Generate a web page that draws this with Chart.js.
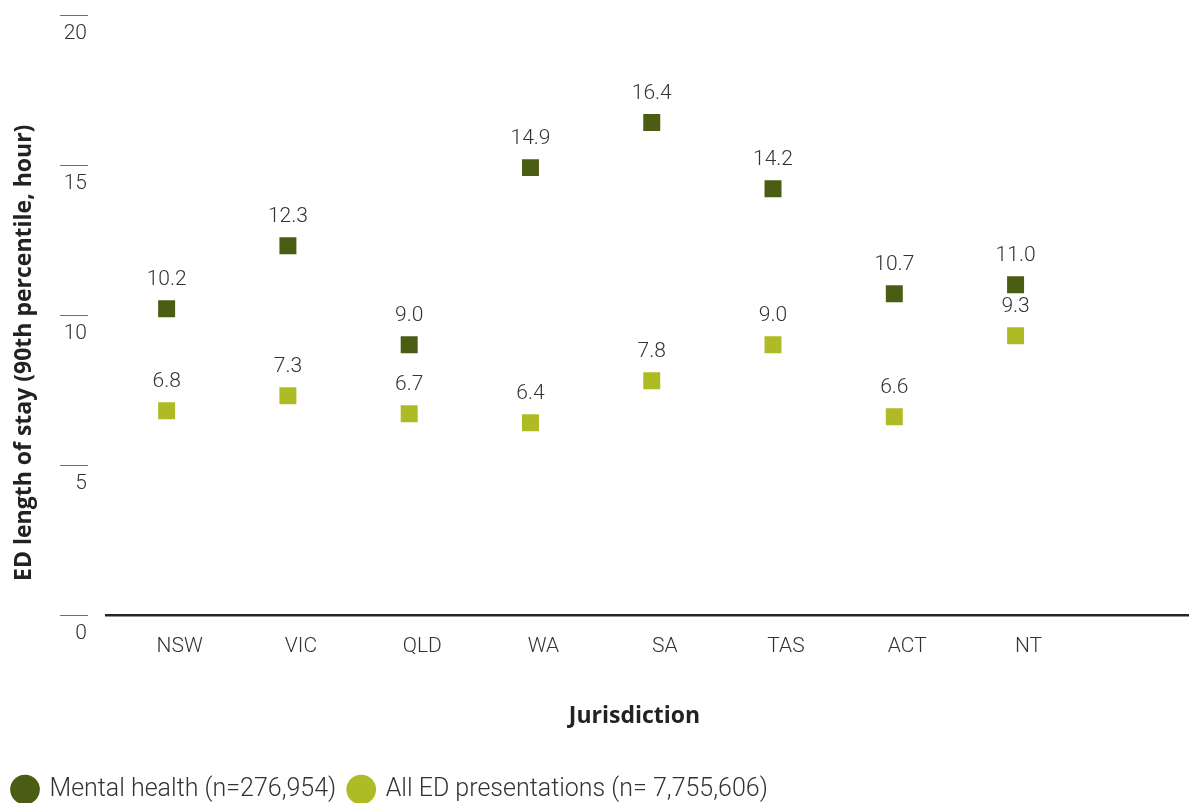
<!DOCTYPE html>
<html>
<head>
<meta charset="utf-8">
<title>ED length of stay by jurisdiction</title>
<script src="https://cdn.jsdelivr.net/npm/chart.js@4/dist/chart.umd.min.js"></script>
<style>
  html, body { margin: 0; padding: 0; background: #ffffff; overflow: hidden; }
  #wrap { position: absolute; left: 0; top: 0; width: 1189px; height: 812px; }
</style>
</head>
<body>
<div id="wrap"><canvas id="chart"></canvas></div>
<script>
// Jurisdictions along the x axis
const jurisdictions = ['NSW', 'VIC', 'QLD', 'WA', 'SA', 'TAS', 'ACT', 'NT'];

// 90th percentile ED length of stay, hours
const mentalHealth = [10.2, 12.3, 9.0, 14.9, 16.4, 14.2, 10.7, 11.0];
const allPresentations = [6.8, 7.3, 6.7, 6.4, 7.8, 9.0, 6.6, 9.3];

// Series names shown in the legend
const seriesNames = ['Mental health (n=276,954)', 'All ED presentations (n= 7,755,606)'];

// Value axis ticks
const yTicks = [0, 5, 10, 15, 20];

const DARK = '#4a5d13';
const LIGHT = '#afbb24';
const TEXT = '#333333';
const LIGHT_FONT = 'Roboto';

function toPoints(values) {
  return values.map((v, i) => ({ x: i, y: v }));
}

// Short tick dashes to the left of the plot, one per value tick
const tickDashes = {
  id: 'tickDashes',
  afterDraw(chart) {
    const y = chart.scales.y;
    const ctx = chart.ctx;
    ctx.save();
    ctx.strokeStyle = '#6f6f6f';
    ctx.lineWidth = 1;
    yTicks.forEach(t => {
      const py = Math.round(y.getPixelForValue(t)) + 0.5;
      ctx.beginPath();
      ctx.moveTo(60, py);
      ctx.lineTo(88, py);
      ctx.stroke();
    });
    ctx.restore();
  }
};

// Value labels above each marker
const valueLabels = {
  id: 'valueLabels',
  afterDatasetsDraw(chart) {
    const ctx = chart.ctx;
    ctx.save();
    ctx.font = '300 21px ' + LIGHT_FONT;
    ctx.fillStyle = TEXT;
    ctx.textAlign = 'center';
    ctx.textBaseline = 'alphabetic';
    chart.data.datasets.forEach((ds, di) => {
      const meta = chart.getDatasetMeta(di);
      meta.data.forEach((pt, i) => {
        ctx.fillText(ds.data[i].y.toFixed(1), pt.x, pt.y - 24);
      });
    });
    ctx.restore();
  }
};

// Axis titles
const axisTitles = {
  id: 'axisTitles',
  afterDraw(chart) {
    const ctx = chart.ctx;
    const area = chart.chartArea;
    ctx.save();
    ctx.fillStyle = '#222222';
    ctx.font = 'bold 23px "Open Sans"';
    ctx.textAlign = 'center';
    ctx.textBaseline = 'middle';
    ctx.fillText('Jurisdiction', (area.left + area.right) / 2 - 13, area.bottom + 101);
    ctx.translate(24, (area.top + area.bottom) / 2 + 38);
    ctx.rotate(-Math.PI / 2);
    ctx.fillText('ED length of stay (90th percentile, hour)', 0, 0);
    ctx.restore();
  }
};

new Chart(document.getElementById('chart'), {
  type: 'scatter',
  data: {
    datasets: [
      {
        label: seriesNames[0],
        data: toPoints(mentalHealth),
        backgroundColor: DARK,
        borderColor: DARK,
        borderWidth: 0,
        pointStyle: 'rect',
        pointRadius: 12,
        pointHoverRadius: 12
      },
      {
        label: seriesNames[1],
        data: toPoints(allPresentations),
        backgroundColor: LIGHT,
        borderColor: LIGHT,
        borderWidth: 0,
        pointStyle: 'rect',
        pointRadius: 12,
        pointHoverRadius: 12
      }
    ]
  },
  options: {
    responsive: true,
    maintainAspectRatio: false,
    animation: false,
    layout: { autoPadding: false, padding: { top: 14.5, left: 0, right: 0, bottom: 0 } },
    scales: {
      x: {
        type: 'linear',
        min: -0.5,
        max: 8.43,
        grid: { display: false, drawTicks: false },
        border: { display: true, color: '#262626', width: 2.5 },
        afterBuildTicks(scale) {
          scale.ticks = jurisdictions.map((_, i) => ({ value: i }));
        },
        afterFit(scale) {
          scale.height = 149;
          scale.paddingLeft = 0;
          scale.paddingRight = 0;
        },
        ticks: {
          padding: 19,
          labelOffset: 13,
          color: TEXT,
          font: { family: LIGHT_FONT, size: 21, weight: '300' },
          callback: (v) => jurisdictions[v] ?? ''
        }
      },
      y: {
        min: 0,
        max: 20,
        grid: { display: false, drawTicks: false },
        border: { display: false },
        afterBuildTicks(scale) {
          scale.ticks = yTicks.map(v => ({ value: v }));
        },
        afterFit(scale) {
          scale.width = 106;
          scale.paddingTop = 0;
          scale.paddingBottom = 0;
        },
        ticks: {
          padding: 19,
          labelOffset: 19,
          color: TEXT,
          font: { family: LIGHT_FONT, size: 21, weight: '300' }
        }
      }
    },
    plugins: {
      tooltip: { enabled: false },
      legend: {
        position: 'bottom',
        align: 'start',
        labels: {
          usePointStyle: true,
          pointStyle: 'circle',
          boxWidth: 24,
          boxHeight: 21,
          padding: 13,
          color: TEXT,
          font: { family: LIGHT_FONT, size: 25, weight: '300' }
        }
      }
    }
  },
  plugins: [tickDashes, valueLabels, axisTitles]
});
</script>
</body>
</html>
